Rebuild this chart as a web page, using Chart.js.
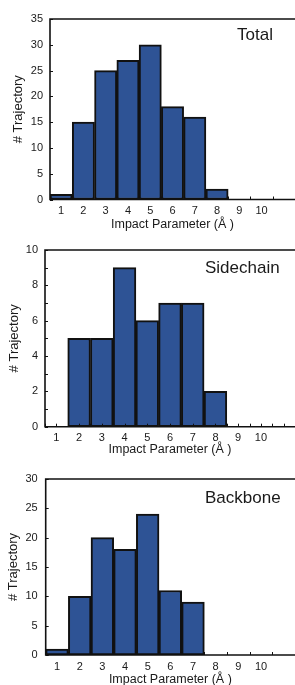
<!DOCTYPE html>
<html>
<head>
<meta charset="utf-8">
<script src="https://cdn.jsdelivr.net/npm/chart.js@4.4.1/dist/chart.umd.min.js"></script>
<style>
    html, body { margin: 0; padding: 0; background: #fff; width: 295px; height: 685px; overflow: hidden; }
    canvas { position: absolute; left: 0; display: block; }
</style>
</head>
<body>
<canvas id="totalChart" width="295" height="232" style="top:0"></canvas>
<canvas id="sidechainChart" width="295" height="231" style="top:226px"></canvas>
<canvas id="backboneChart" width="295" height="232" style="top:455px"></canvas>
<script>
    // Bins of impact parameter (Å); the 11th slot is an empty unlabeled bin
    const binLabels = ['1', '2', '3', '4', '5', '6', '7', '8', '9', '10', ''];

    // # Trajectory per bin
    const totalCounts     = [1, 15, 25, 27, 30, 18, 16, 2, 0, 0];
    const sidechainCounts = [0, 5, 5, 9, 6, 7, 7, 2, 0, 0];
    const backboneCounts  = [1, 10, 20, 18, 24, 11, 9, 0, 0, 0];

    // Y axis ranges
    const totalYMax = 35,     totalYStep = 5;
    const sidechainYMax = 10, sidechainYStep = 2;
    const backboneYMax = 30,  backboneYStep = 5;

    const FONT = "'Liberation Sans', Arial, Helvetica, sans-serif";
    const BAR_COLOR = '#2e5395';
    const INK = '#111';

    // khung + vạch chia hướng vào trong + nhãn panel
    const framePlugin = {
        id: 'frame',
        afterDatasetsDraw(chart, args, opts) {
            const { ctx, chartArea: a, scales: { x, y } } = chart;
            ctx.save();
            ctx.strokeStyle = INK;
            ctx.lineWidth = 1;

            // vạch trục y
            for (let v = y.min; v <= y.max; v += opts.yMinor) {
                const py = Math.round(y.getPixelForValue(v)) + 0.5;
                ctx.beginPath();
                ctx.moveTo(a.left, py);
                ctx.lineTo(a.left + 3, py);
                ctx.stroke();
            }
            // vạch trục x
            for (let k = -0.5; k <= binLabels.length - 0.5; k += opts.xStep) {
                const px = Math.round(x.getPixelForValue(k)) + 0.5;
                ctx.beginPath();
                ctx.moveTo(px, a.bottom);
                ctx.lineTo(px, a.bottom - 3);
                ctx.stroke();
            }

            // khung trên / trái / dưới
            ctx.lineWidth = 1.6;
            ctx.beginPath();
            ctx.moveTo(a.right, a.top);
            ctx.lineTo(a.left, a.top);
            ctx.lineTo(a.left, a.bottom);
            ctx.lineTo(a.right, a.bottom);
            ctx.stroke();

            // nhãn panel
            ctx.fillStyle = '#1a1a1a';
            ctx.font = `17px ${FONT}`;
            ctx.textAlign = 'left';
            ctx.textBaseline = 'middle';
            ctx.fillText(opts.label, opts.labelX, a.top + opts.labelDy);
            ctx.restore();
        }
    };

    function makeChart(id, counts, yMax, yStep, cfg) {
        const ctx = document.getElementById(id).getContext('2d');
        return new Chart(ctx, {
            type: 'bar',
            data: {
                labels: binLabels,
                datasets: [{
                    data: counts,
                    backgroundColor: BAR_COLOR,
                    borderColor: INK,
                    borderWidth: 2,
                    borderSkipped: false,
                    barPercentage: 1,
                    categoryPercentage: 1
                }]
            },
            options: {
                responsive: false,
                animation: false,
                layout: { padding: { top: cfg.padTop, right: 0, bottom: 0, left: 0 } },
                plugins: {
                    legend: { display: false },
                    tooltip: { enabled: false },
                    frame: {
                        label: cfg.label, labelX: cfg.labelX, labelDy: cfg.labelDy,
                        yMinor: cfg.yMinor, xStep: cfg.xStep
                    }
                },
                scales: {
                    x: {
                        grid: { display: false, drawTicks: false },
                        border: { display: false },
                        ticks: {
                            autoSkip: false, maxRotation: 0, padding: cfg.xPad,
                            color: '#1a1a1a', font: { family: FONT, size: 11 }
                        },
                        title: {
                            display: true, text: 'Impact Parameter (Å )',
                            color: '#1a1a1a', font: { family: FONT, size: 12.5 },
                            padding: { top: 0, bottom: 0 }
                        },
                        afterFit: s => { s.height = cfg.xHeight; }
                    },
                    y: {
                        min: 0, max: yMax,
                        grid: { display: false, drawTicks: false },
                        border: { display: false },
                        ticks: {
                            stepSize: yStep, padding: cfg.yPad,
                            color: '#1a1a1a', font: { family: FONT, size: 11 }
                        },
                        title: {
                            display: true, text: '# Trajectory',
                            color: '#1a1a1a', font: { family: FONT, size: 13 },
                            padding: { top: cfg.yTitlePad, bottom: 0 }
                        },
                        afterFit: s => { s.width = cfg.left; }
                    }
                }
            },
            plugins: [framePlugin]
        });
    }

    makeChart('totalChart', totalCounts, totalYMax, totalYStep, {
        padTop: 19, xHeight: 32.5, left: 50, xPad: 5, yPad: 7, yTitlePad: 11,
        label: 'Total', labelX: 237, labelDy: 16, yMinor: 5, xStep: 1
    });
    makeChart('sidechainChart', sidechainCounts, sidechainYMax, sidechainYStep, {
        padTop: 24, xHeight: 30.3, left: 45, xPad: 4.5, yPad: 7, yTitlePad: 7,
        label: 'Sidechain', labelX: 205, labelDy: 18, yMinor: 1, xStep: 0.5
    });
    makeChart('backboneChart', backboneCounts, backboneYMax, backboneYStep, {
        padTop: 24, xHeight: 32, left: 45.7, xPad: 5, yPad: 8, yTitlePad: 6,
        label: 'Backbone', labelX: 205, labelDy: 19, yMinor: 5, xStep: 1
    });
</script>
</body>
</html>
